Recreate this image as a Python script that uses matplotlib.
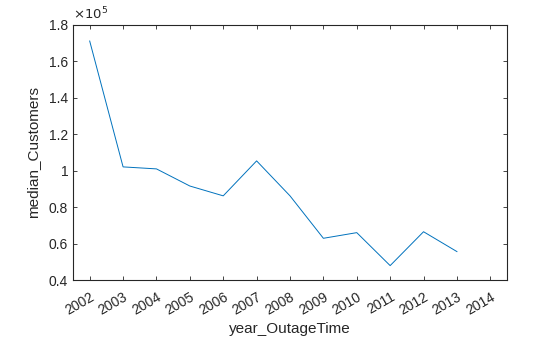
import matplotlib
matplotlib.use("Agg")
import matplotlib.pyplot as plt
from matplotlib.ticker import FuncFormatter

years = [2002, 2003, 2004, 2005, 2006, 2007, 2008, 2009, 2010, 2011, 2012, 2013]
median_customers = [171200, 102100, 101000, 91600, 86200, 105400, 86200, 62900, 66000, 47900, 66500, 55600]
xtick_years = list(range(2002, 2015))
yticks = [40000, 60000, 80000, 100000, 120000, 140000, 160000, 180000]

plt.rcParams['font.family'] = ['Liberation Sans', 'DejaVu Sans']

fig = plt.figure(figsize=(5.6, 3.37), dpi=100)
ax = fig.add_axes([73/560, 1-280/337, (507-73)/560, (280-25)/337])
ax.plot(years, median_customers, color=(0, 0.447, 0.741), linewidth=0.7)
ax.set_xlim(2001.5, 2014.5)
ax.set_ylim(40000, 180000)
ax.set_xticks(xtick_years)
ax.set_xticklabels([str(y) for y in xtick_years], rotation=30, ha='right', rotation_mode='anchor')
ax.set_yticks(yticks)
ax.yaxis.set_major_formatter(FuncFormatter(lambda v, p: ('%g' % (v/1e5))))
ax.tick_params(direction='in', top=True, right=True, labelsize=10, colors='#262626', length=3, width=0.6)
ax.tick_params(axis='x', pad=7)
for s in ax.spines.values():
    s.set_linewidth(0.8)
    s.set_color('#262626')
ax.set_xlabel('year_OutageTime', fontsize=11, color='#262626', labelpad=3)
ax.set_ylabel('median_Customers', fontsize=11, color='#262626', labelpad=6)
ax.text(0.0, 1.01, r'$\times10^{5}$', transform=ax.transAxes, fontsize=9.5, color='#262626', va='bottom', ha='left')

fig.savefig('out.png', dpi=100)
